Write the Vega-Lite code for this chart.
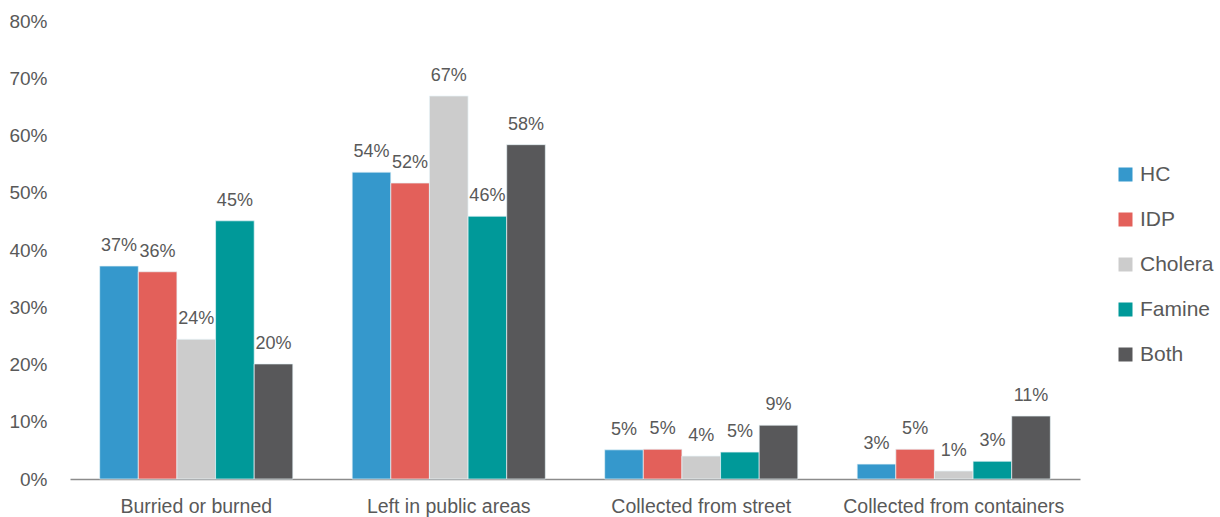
{
  "$schema": "https://vega.github.io/schema/vega-lite/v6.json",
  "width": 1010,
  "height": 458,
  "autosize": {"type": "none"},
  "padding": {"left": 70, "top": 21, "right": 140, "bottom": 38},
  "background": "white",
  "config": {
    "view": {"stroke": null},
    "font": "Liberation Sans",
    "text": {"font": "Liberation Sans"}
  },
  "data": {
    "values": [
      {"cat": "Burried or burned", "group": "HC", "value": 0.372},
      {"cat": "Burried or burned", "group": "IDP", "value": 0.362},
      {"cat": "Burried or burned", "group": "Cholera", "value": 0.244},
      {"cat": "Burried or burned", "group": "Famine", "value": 0.451},
      {"cat": "Burried or burned", "group": "Both", "value": 0.201},
      {"cat": "Left in public areas", "group": "HC", "value": 0.536},
      {"cat": "Left in public areas", "group": "IDP", "value": 0.517},
      {"cat": "Left in public areas", "group": "Cholera", "value": 0.669},
      {"cat": "Left in public areas", "group": "Famine", "value": 0.459},
      {"cat": "Left in public areas", "group": "Both", "value": 0.584},
      {"cat": "Collected from street", "group": "HC", "value": 0.051},
      {"cat": "Collected from street", "group": "IDP", "value": 0.052},
      {"cat": "Collected from street", "group": "Cholera", "value": 0.040},
      {"cat": "Collected from street", "group": "Famine", "value": 0.047},
      {"cat": "Collected from street", "group": "Both", "value": 0.094},
      {"cat": "Collected from containers", "group": "HC", "value": 0.026},
      {"cat": "Collected from containers", "group": "IDP", "value": 0.052},
      {"cat": "Collected from containers", "group": "Cholera", "value": 0.014},
      {"cat": "Collected from containers", "group": "Famine", "value": 0.031},
      {"cat": "Collected from containers", "group": "Both", "value": 0.110}
    ]
  },
  "encoding": {
    "x": {
      "field": "cat", "type": "nominal", "sort": null, "title": null,
      "scale": {"paddingInner": 0.235, "paddingOuter": 0.1175},
      "axis": {
        "labelAngle": 0, "labelFontSize": 19.5, "labelColor": "#595959",
        "labelPadding": 18, "labelLimit": 0, "ticks": false, "domainColor": "#8c8c8c",
        "domainWidth": 1.5, "grid": false
      }
    },
    "xOffset": {
      "field": "group", "type": "nominal",
      "sort": ["HC", "IDP", "Cholera", "Famine", "Both"],
      "scale": {"paddingInner": 0, "paddingOuter": 0}
    },
    "y": {
      "field": "value", "type": "quantitative", "title": null,
      "scale": {"domain": [0, 0.8], "nice": false},
      "axis": {
        "format": ".0%", "values": [0, 0.1, 0.2, 0.3, 0.4, 0.5, 0.6, 0.7, 0.8],
        "labelFontSize": 19, "labelColor": "#595959", "labelPadding": 23,
        "ticks": false, "domain": false, "grid": false
      }
    },
    "color": {
      "field": "group", "type": "nominal", "title": null,
      "sort": ["HC", "IDP", "Cholera", "Famine", "Both"],
      "scale": {
        "domain": ["HC", "IDP", "Cholera", "Famine", "Both"],
        "range": ["#3598cc", "#e3605a", "#cccccc", "#009999", "#58585a"]
      },
      "legend": {
        "orient": "none", "legendX": 1045, "legendY": 143,
        "symbolType": "square", "symbolSize": 196, "symbolStrokeWidth": 0,
        "labelFontSize": 21, "labelColor": "#595959", "labelOffset": 4,
        "rowPadding": 23, "labelFont": "Liberation Sans"
      }
    }
  },
  "layer": [
    {"mark": {"type": "bar", "stroke": "#e8f4f8", "strokeWidth": 0.7}},
    {
      "mark": {"type": "text", "baseline": "bottom", "dy": -11, "fontSize": 18, "color": "#595959", "fill": "#595959"},
      "encoding": {
        "text": {"field": "value", "type": "quantitative", "format": ".0%"},
        "color": {"value": "#595959"}
      }
    }
  ]
}
